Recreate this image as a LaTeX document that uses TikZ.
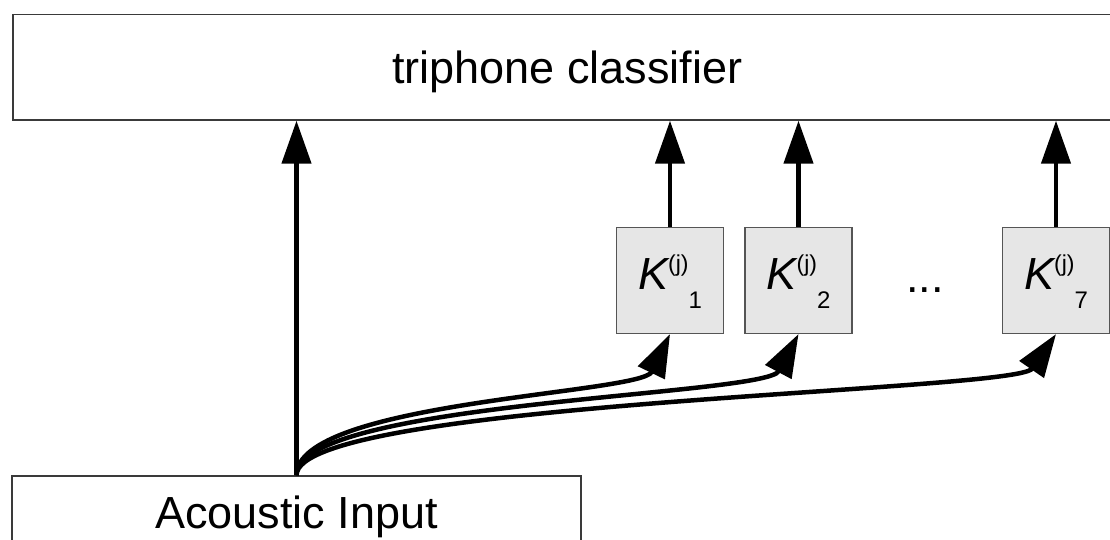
\documentclass[tikz,border=0pt]{standalone}
\usepackage{fontspec}
\setmainfont{Liberation Sans}
\usetikzlibrary{arrows.meta}
\definecolor{boxline}{HTML}{3A3A3A}
\definecolor{kfill}{HTML}{E6E6E6}
\definecolor{kline}{HTML}{555555}
\newcommand{\klabel}[1]{%
  {\itshape K}%
  \raisebox{18pt}{\fontsize{23}{23}\selectfont (j)}%
  \raisebox{-19pt}{\fontsize{24}{24}\selectfont #1}}
\begin{document}
\begin{tikzpicture}[x=1pt,y=-1pt,
  bigbox/.style={draw=boxline,line width=1.4pt,fill=white,
    font=\fontsize{45}{45}\selectfont,
    text height=32pt,text depth=0pt,inner sep=0pt},
  kbox/.style={draw=kline,line width=1.2pt,fill=kfill,
    minimum width=107pt,minimum height=106pt,inner sep=0pt,
    font=\fontsize{45}{45}\selectfont,
    text height=34pt,text depth=16pt},
  flow/.style={line width=4.5pt,
    -{Triangle[length=43pt,width=29pt]}}]
  \useasboundingbox (0,0) rectangle (1110,540);
  \clip (0,0) rectangle (1110,540);

  % classifier on top, input at the bottom
  \node[bigbox,minimum width=1109pt,minimum height=105.5pt]
    (tc) at (567.5,67.25) {triphone classifier};
  \node[bigbox,minimum width=569pt,minimum height=72pt]
    (ai) at (296.5,512) {Acoustic Input};

  % context classifiers
  \node[kbox] (k1) at (670,280.5) {\klabel{1}};
  \node[kbox] (k2) at (798.5,280.5) {\klabel{2}};
  \node[kbox] (k7) at (1056,280.5) {\klabel{7}};
  \node[font=\fontsize{45}{45}\selectfont,anchor=base,inner sep=0pt]
    (dots) at (925,292.5) {...};

  % direct path and outputs into the classifier
  \draw[flow] (ai.north) -- (ai.north |- tc.south);
  \draw[flow] (k1.north) -- (k1.north |- tc.south);
  \draw[flow] (k2.north) -- (k2.north |- tc.south);
  \draw[flow] (k7.north) -- (k7.north |- tc.south);

  % fan-out from the input
  \draw[flow] (ai.north) .. controls +(0,-74) and +(-29,60) .. (k1.south);
  \draw[flow] (ai.north) .. controls +(0,-74) and +(-33,62) .. (k2.south);
  \draw[flow] (ai.north) .. controls +(0,-74) and +(-40,58) .. (k7.south);
\end{tikzpicture}
\end{document}
